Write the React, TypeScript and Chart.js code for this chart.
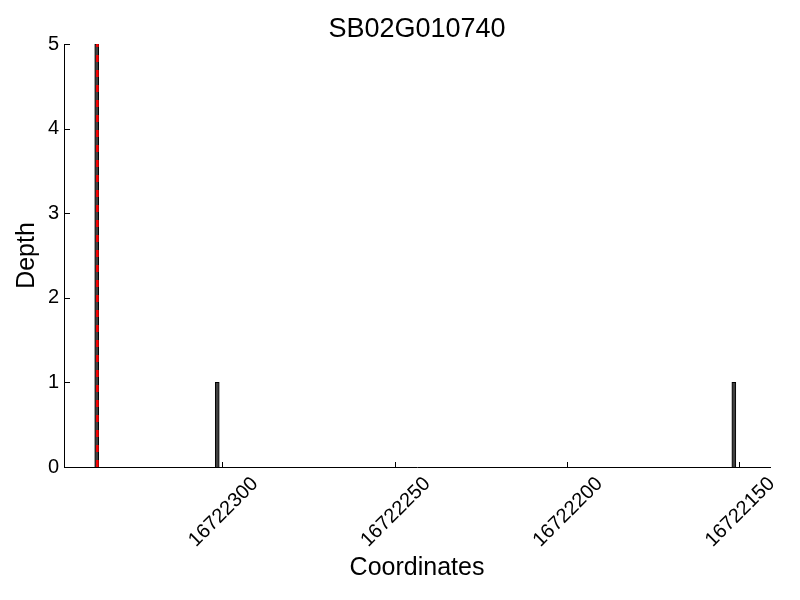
import React, { useEffect, useRef } from "react";
import { Chart, registerables } from "chart.js";

Chart.register(...registerables);

const chartTitle = "SB02G010740";
const xAxisTitle = "Coordinates";
const yAxisTitle = "Depth";
const binStarts = [16722336, 16722301, 16722151];
const depths = [5, 1, 1];
const markerPositions = [16722336.3];
const xTicks = [16722300, 16722250, 16722200, 16722150];
const xTickLabels = ["16722300", "16722250", "16722200", "16722150"];
const yTicks = [0, 1, 2, 3, 4, 5];
const xRange = [16722141, 16722346];
const yRange = [0, 5];

const FONT = '"Liberation Sans", Arial, Helvetica, sans-serif';

const axisDecor = {
  id: "axisDecor",
  afterDatasetsDraw(chart: any) {
    const { ctx, chartArea, scales } = chart;
    ctx.save();
    ctx.strokeStyle = "#000";
    ctx.lineWidth = 1;
    ctx.beginPath();
    xTicks.forEach((v) => {
      const px = Math.round(scales.x.getPixelForValue(v)) + 0.5;
      ctx.moveTo(px, chartArea.bottom);
      ctx.lineTo(px, chartArea.bottom - 5);
    });
    yTicks.forEach((v) => {
      const py = Math.round(scales.y.getPixelForValue(v)) + 0.5;
      ctx.moveTo(chartArea.left, py);
      ctx.lineTo(chartArea.left + 6, py);
    });
    ctx.stroke();

    const fs = 20;
    ctx.font = `${fs}px ${FONT}`;
    ctx.fillStyle = "#000";
    ctx.textAlign = "center";
    ctx.textBaseline = "alphabetic";
    const capH = 0.72 * fs;
    xTicks.forEach((v, i) => {
      const label = xTickLabels[i];
      const w = ctx.measureText(label).width;
      const cx = scales.x.getPixelForValue(v);
      const cy = chartArea.bottom + 7.5 + (w + capH) * Math.SQRT1_2 / 2;
      ctx.save();
      ctx.translate(cx, cy);
      ctx.rotate(-Math.PI / 4);
      ctx.fillText(label, 0, capH / 2);
      ctx.restore();
    });

    const tfs = 27;
    ctx.font = `${tfs}px ${FONT}`;
    ctx.textAlign = "center";
    ctx.textBaseline = "alphabetic";
    ctx.fillText(chartTitle, (chartArea.left + chartArea.right) / 2, 27.3 + (0.72 * tfs) / 2);
    ctx.restore();
  },
};

export default function App() {
  const ref = useRef<HTMLCanvasElement | null>(null);
  useEffect(() => {
    if (!ref.current) return;
    const chart = new Chart(ref.current, {
      type: "bar",
      data: {
        datasets: [
          {
            type: "line",
            data: markerPositions.flatMap((m) => [
              { x: m, y: yRange[0] },
              { x: m, y: yRange[1] },
            ]),
            borderColor: "#ff0000",
            borderWidth: 2.5,
            borderDash: [7, 8],
            pointRadius: 0,
            order: 0,
          } as any,
          {
            type: "bar",
            data: binStarts.map((s, i) => ({ x: s + 0.5, y: depths[i] })),
            backgroundColor: "#404040",
            borderColor: "#000000",
            borderWidth: 1,
            barThickness: 4,
            grouped: false,
            order: 1,
          } as any,
        ],
      },
      plugins: [axisDecor],
      options: {
        responsive: false,
        animation: false,
        layout: { padding: { left: 0, right: 30, top: 44, bottom: 0 } },
        plugins: {
          legend: { display: false },
          tooltip: { enabled: false },
          title: { display: false },
        },
        scales: {
          x: {
            type: "linear",
            reverse: true,
            offset: false,
            min: xRange[0],
            max: xRange[1],
            grid: { display: false, drawTicks: false },
            border: { display: true, color: "#000", width: 1 },
            ticks: { display: false },
            afterBuildTicks: (scale: any) => {
              scale.ticks = xTicks.map((v) => ({ value: v }));
            },
            afterFit: (scale: any) => {
              scale.height = 133;
            },
            title: {
              display: true,
              text: xAxisTitle,
              color: "#000",
              font: { family: FONT, size: 25 },
              padding: { top: 0, bottom: 17 },
            },
          },
          y: {
            type: "linear",
            min: yRange[0],
            max: yRange[1],
            grid: { display: false, drawTicks: false },
            border: { display: true, color: "#000", width: 1 },
            afterBuildTicks: (scale: any) => {
              scale.ticks = yTicks.map((v) => ({ value: v }));
            },
            ticks: {
              color: "#000",
              font: { family: FONT, size: 20 },
              padding: 5,
            },
            afterFit: (scale: any) => {
              scale.width = 64;
            },
            title: {
              display: true,
              text: yAxisTitle,
              color: "#000",
              font: { family: FONT, size: 25 },
              padding: { top: 12, bottom: 0 },
            },
          },
        },
      } as any,
    });
    return () => chart.destroy();
  }, []);
  return (
    <canvas
      ref={ref}
      width={800}
      height={600}
      style={{ position: "absolute", left: 0, top: 0, display: "block", background: "#fff" }}
    />
  );
}
